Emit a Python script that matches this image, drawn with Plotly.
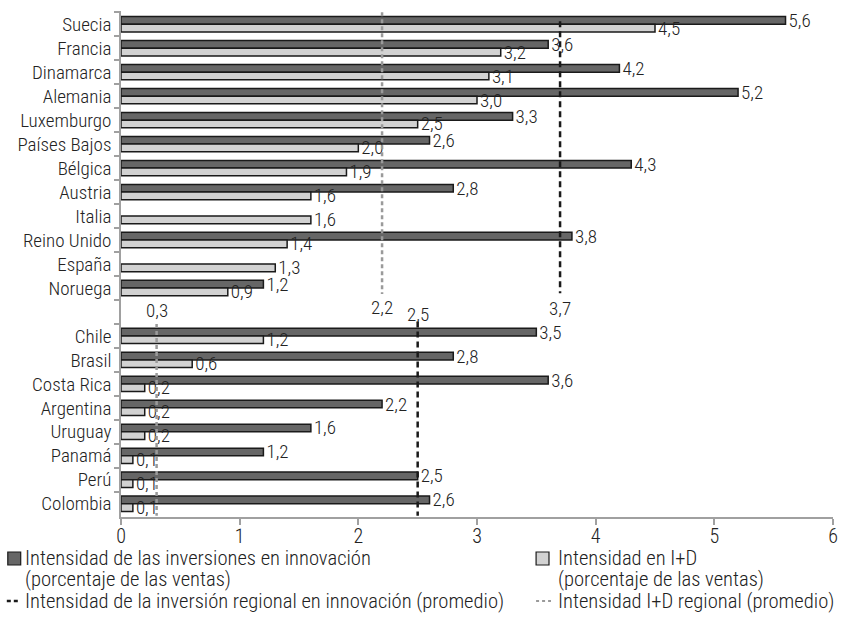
import plotly.graph_objects as go

# Countries (Europe block, blank separator row, Latin America block)
europe = ["Suecia", "Francia", "Dinamarca", "Alemania", "Luxemburgo", "Países Bajos",
          "Bélgica", "Austria", "Italia", "Reino Unido", "España", "Noruega"]
latam = ["Chile", "Brasil", "Costa Rica", "Argentina", "Uruguay", "Panamá", "Perú", "Colombia"]
separator = [" "]
countries = europe + separator + latam

# Innovation investment intensity (% of sales); None = no data
innov_europe = [5.6, 3.6, 4.2, 5.2, 3.3, 2.6, 4.3, 2.8, None, 3.8, None, 1.2]
innov_latam = [3.5, 2.8, 3.6, 2.2, 1.6, 1.2, 2.5, 2.6]
# R&D intensity (% of sales)
rd_europe = [4.5, 3.2, 3.1, 3.0, 2.5, 2.0, 1.9, 1.6, 1.6, 1.4, 1.3, 0.9]
rd_latam = [1.2, 0.6, 0.2, 0.2, 0.2, 0.1, 0.1, 0.1]

# Regional averages
avg_innov = {"europe": 3.7, "latam": 2.5}
avg_rd = {"europe": 2.2, "latam": 0.3}

x_ticks = [0, 1, 2, 3, 4, 5, 6]

FONT = "Roboto Condensed, DejaVu Sans Condensed, sans-serif"
FS = 19
WT = 300
TXT = "#222222"
DARK = "#666666"
LIGHT = "#d2d2d2"

W, H = 843, 623
ML, MR, MT, MB = 121, 5, 11, 106
PW, PH = W - ML - MR, H - MT - MB


def px(xp):
    return (xp - ML) / PW


def py(yp):
    return (H - MB - yp) / PH


def fmt(v):
    return None if v is None else f"{v:.1f}".replace(".", ",")


def font(size=FS):
    return dict(family=FONT, size=size, color=TXT, weight=WT)


innov = innov_europe + [None] + innov_latam
rd = rd_europe + [None] + rd_latam

fig = go.Figure()
fig.add_trace(go.Bar(
    y=countries, x=innov, orientation="h", name="innov",
    marker=dict(color=DARK, line=dict(color="#1a1a1a", width=1.5)),
    text=[fmt(v) for v in innov], textposition="outside", textfont=font(),
    constraintext="none", cliponaxis=False, showlegend=False,
))
fig.add_trace(go.Bar(
    y=countries, x=rd, orientation="h", name="rd",
    marker=dict(color=LIGHT, line=dict(color="#1a1a1a", width=1.5)),
    text=[fmt(v) for v in rd], textposition="outside", textfont=font(),
    constraintext="none", cliponaxis=False, showlegend=False,
))

shapes = []
annotations = []

# Regional average lines (category index units on the y axis)
n_eu = len(europe)
lat0 = n_eu + 1
avg_lines = [
    (avg_innov["europe"], -0.12, n_eu - 0.78, "#1a1a1a", "6px,4px", n_eu - 0.15),
    (avg_rd["europe"], -0.5, n_eu - 0.75, "#9a9a9a", "4px,3px", n_eu - 0.2),
    (avg_innov["latam"], lat0 - 0.6, len(countries) - 0.5, "#1a1a1a", "6px,4px", lat0 - 0.9),
    (avg_rd["latam"], lat0 - 0.5, len(countries) - 0.5, "#9a9a9a", "4px,3px", lat0 - 1.05),
]
for val, y0, y1, col, dash, ylab in avg_lines:
    shapes.append(dict(type="line", xref="x", yref="y", x0=val, x1=val, y0=y0, y1=y1,
                       line=dict(color=col, width=2.5, dash=dash), layer="above"))
    annotations.append(dict(x=val, y=ylab, xref="x", yref="y", text=fmt(val),
                            showarrow=False, xanchor="center", yanchor="middle",
                            font=font()))

# Legend keys
shapes.append(dict(type="rect", xref="paper", yref="paper",
                   x0=px(7), x1=px(20), y0=py(565), y1=py(552),
                   fillcolor=DARK, line=dict(color="#1a1a1a", width=1.2)))
shapes.append(dict(type="rect", xref="paper", yref="paper",
                   x0=px(539), x1=px(552), y0=py(565), y1=py(552),
                   fillcolor=LIGHT, line=dict(color="#1a1a1a", width=1.2)))
shapes.append(dict(type="line", xref="paper", yref="paper",
                   x0=px(6), x1=px(20), y0=py(601), y1=py(601),
                   line=dict(color="#1a1a1a", width=2.5, dash="4px,3px")))
shapes.append(dict(type="line", xref="paper", yref="paper",
                   x0=px(539), x1=px(554), y0=py(601), y1=py(601),
                   line=dict(color="#9a9a9a", width=2, dash="3px,3px")))

legend_text = [
    (22, 558, "Intensidad de las inversiones en innovación"),
    (22, 579, "(porcentaje de las ventas)"),
    (559, 558, "Intensidad en I+D"),
    (559, 579, "(porcentaje de las ventas)"),
    (22, 601, "Intensidad de la inversión regional en innovación (promedio)"),
    (559, 601, "Intensidad I+D regional (promedio)"),
]
for xx, yy, t in legend_text:
    annotations.append(dict(x=px(xx), y=py(yy), xref="paper", yref="paper", text=t,
                            showarrow=False, xanchor="left", yanchor="middle",
                            font=font(20.6)))

fig.update_layout(
    width=W, height=H,
    margin=dict(l=ML, r=MR, t=MT, b=MB),
    paper_bgcolor="white", plot_bgcolor="white",
    barmode="group", bargap=0.36, bargroupgap=0,
    shapes=shapes, annotations=annotations,
    font=font(),
    showlegend=False,
)
fig.update_xaxes(
    range=[0, 6], tickvals=x_ticks, ticktext=[str(t) for t in x_ticks],
    showgrid=False, zeroline=False, showline=True, linecolor="#a0a0a0", linewidth=1.5,
    ticks="outside", ticklen=6, tickcolor="#a0a0a0", tickwidth=1.5,
    ticklabelstandoff=-6,
    tickfont=font(20),
)
fig.update_yaxes(
    type="category", categoryorder="array", categoryarray=countries,
    autorange="reversed", showgrid=False, zeroline=False,
    showline=True, linecolor="#a0a0a0", linewidth=1.5,
    ticks="outside", tickson="boundaries", ticklen=5, tickcolor="#a0a0a0", tickwidth=1.5,
    ticklabelstandoff=4,
    tickfont=font(),
)

fig.write_html("out.html")
